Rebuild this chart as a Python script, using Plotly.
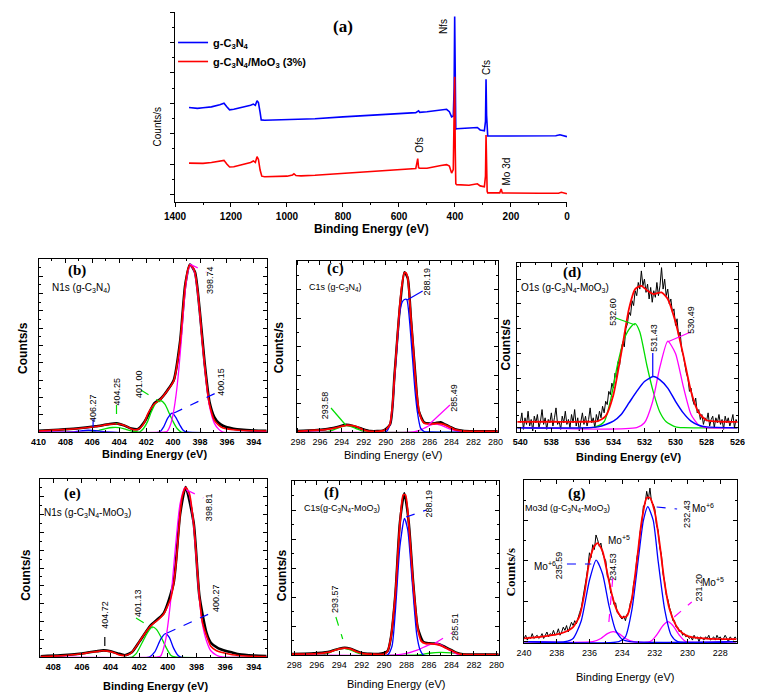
import numpy as np
import plotly.graph_objects as go

W, H = 760, 697
OFF = 8  # the page body margin shifts the figure by this many pixels
SANS = "Liberation Sans"
SERIF = "Liberation Serif"
BLUE, RED, GREEN, MAG, BLACK = "#0000ff", "#ff0000", "#00dd00", "#ff00ff", "#000000"

# ---------------- (a) survey spectra ----------------
A_BLUE_E = [1350,1320,1300,1270,1240,1225,1215,1205,1190,1160,1130,1120,1113,1107,1102,1096,1092,1080,1000,950,
            900,800,700,600,540,530,526,500,450,430,420,412,406,403,401,399,397,394,350,320,
            310,295,291,289,287,285,283,250,200,100,40,25,15,0]
A_BLUE_I = [2.86,2.83,2.85,2.88,2.95,3.0,2.88,2.78,2.8,2.86,2.93,2.97,2.93,3.08,3.02,2.7,2.45,2.44,2.46,2.47,
            2.49,2.55,2.61,2.67,2.69,2.75,2.70,2.72,2.78,2.8,2.72,2.55,2.58,3.5,5.85,3.0,2.15,2.16,2.17,2.2,
            2.12,2.09,2.4,3.79,2.6,1.95,1.92,1.92,1.92,1.92,1.93,1.96,1.93,1.9]
A_RED_E = [1350,1320,1300,1270,1240,1225,1215,1205,1190,1160,1130,1120,1113,1107,1102,1096,1090,1080,1000,980,
           975,968,950,900,800,700,600,540,533,530,526,500,450,430,420,412,406,403,401,399,
           397,394,350,320,310,295,291,289,287,285,283,240,235,231,100,30,20,10,0]
A_RED_I = [1.03,1.01,1.02,1.05,1.1,1.12,1.0,0.9,0.91,0.97,1.05,1.1,1.05,1.24,1.15,0.8,0.6,0.58,0.6,0.64,
           0.68,0.62,0.61,0.63,0.69,0.75,0.82,0.85,1.18,0.88,0.86,0.86,0.95,0.98,0.93,0.7,0.82,2.5,3.87,1.5,
           0.35,0.32,0.3,0.35,0.28,0.25,0.6,1.95,0.8,0.1,0.05,0.05,0.18,0.05,0.04,0.04,0.07,0.04,0.02]

# ---------------- (b) N1s g-C3N4 ----------------
B_RED_X = [410,408.5,407.2,405.75,404.8,404.2,403.6,403.1,402.85,402.6,402.37,402.1,401.88,401.4,400.92,400.43,399.95,399.7,399.47,399.25,
           399.1,398.9,398.75,398.55,398.38,398.2,398.02,397.85,397.66,397.48,397.3,396.93,396.6,396.33,395.12,393.05]
B_RED_Y = [0.006,0.012,0.019,0.032,0.044,0.048,0.038,0.018,0.013,0.016,0.029,0.06,0.105,0.162,0.19,0.238,0.295,0.39,0.524,0.72,
           0.848,0.94,0.966,0.955,0.924,0.83,0.695,0.54,0.39,0.26,0.162,0.067,0.038,0.025,0.01,0.006]
B_BLK_X = [410,408.5,407.2,405.75,404.8,404.2,403.6,403.1,402.6,402.1,401.4,400.92,400.43,399.95,399.47,399.1,398.75,398.38,398.02,397.66,
           397.3,396.93,396.6,396.3,396.0,395.5,395.0,394.0,393.05]
B_BLK_Y = [0.007,0.013,0.02,0.033,0.045,0.05,0.037,0.02,0.017,0.062,0.165,0.192,0.24,0.3,0.53,0.85,0.968,0.925,0.7,0.4,
           0.175,0.085,0.052,0.036,0.027,0.019,0.014,0.009,0.007]
B_MAG_X = [410,400.6,400.43,400.2,399.95,399.77,399.59,399.4,399.22,399.05,398.86,398.75,398.55,398.38,398.2,398.02,397.85,397.66,397.48,397.3,396.93,396.6,396.3,393.05]
B_MAG_Y = [0,0,0.005,0.04,0.124,0.22,0.35,0.52,0.71,0.85,0.94,0.96,0.95,0.915,0.82,0.685,0.53,0.38,0.25,0.15,0.05,0.015,0,0]
B_GRN_X = [410,406.0,405.5,405.0,404.5,404.0,403.5,403.0,402.5,402.2,401.9,401.6,401.3,400.92,400.6,400.3,400.0,399.7,399.4,393.05]
B_GRN_Y = [0,0,0.01,0.02,0.026,0.025,0.015,0.005,0,0.02,0.06,0.12,0.165,0.181,0.16,0.11,0.06,0.02,0,0]
B_BLU_X = [410,407.5,407.0,406.3,405.5,405.0,401.0,400.7,400.4,400.07,399.8,399.5,399.25,399.0,393.05]
B_BLU_Y = [0,0,0.005,0.01,0.005,0,0,0.03,0.08,0.109,0.085,0.04,0.01,0,0]

# ---------------- (c) C1s g-C3N4 ----------------
C_RED_X = [298.1,297,295.55,294.9,294.37,293.63,293.04,292.6,292.3,291.8,291.41,290.7,290.22,289.9,289.63,289.4,289.19,288.95,288.74,288.5,
           288.3,288.15,288.0,287.85,287.71,287.5,287.33,287.15,286.97,286.75,286.53,286.1,285.78,285.3,284.89,284.3,283.71,283.1,282.52,279.8]
C_RED_Y = [0.004,0.008,0.014,0.02,0.027,0.039,0.037,0.03,0.02,0.008,0.004,0.004,0.008,0.02,0.043,0.15,0.336,0.55,0.727,0.87,
           0.932,0.93,0.902,0.8,0.668,0.5,0.336,0.21,0.121,0.075,0.053,0.047,0.047,0.05,0.047,0.033,0.014,0.007,0.004,0.003]
C_BLK_X = [298.1,296.5,295.5,294.4,293.6,293.0,292.3,291.4,290.2,289.6,289.2,288.7,288.3,288.0,287.7,287.3,287.0,286.5,286.0,285.5,
           285.0,284.6,284.2,283.7,283.0,282.0,279.8]
C_BLK_Y = [0.006,0.01,0.016,0.03,0.042,0.036,0.022,0.006,0.01,0.045,0.34,0.74,0.935,0.9,0.66,0.33,0.125,0.056,0.05,0.052,
           0.058,0.045,0.032,0.016,0.008,0.005,0.004]
C_BLU_X = [298.1,290.0,289.63,289.4,289.19,288.95,288.74,288.5,288.3,288.09,287.85,287.57,287.35,287.13,286.83,286.5,286.0,279.8]
C_BLU_Y = [0,0,0.04,0.14,0.32,0.52,0.69,0.76,0.775,0.775,0.66,0.434,0.25,0.121,0.023,0.003,0,0]
C_MAG_X = [298.1,287.5,287.0,286.5,286.0,285.5,285.0,284.5,284.0,283.5,283.0,279.8]
C_MAG_Y = [0,0,0.008,0.022,0.038,0.046,0.04,0.027,0.014,0.005,0,0]
C_GRN_X = [298.1,295.5,295.0,294.5,294.0,293.6,293.2,292.7,292.2,291.7,279.8]
C_GRN_Y = [0,0,0.006,0.02,0.032,0.037,0.033,0.02,0.007,0,0]

# ---------------- (d) O1s g-C3N4-MoO3 ----------------
D_RAW_START, D_RAW_END = 540.0, 526.0
D_RAW_Y = [0.03,0.09,-0.01,0.06,0.02,0.10,0.01,0.05,-0.02,0.07,
           0.03,0.08,0.00,0.04,0.11,0.02,0.06,-0.01,0.05,0.03,
           0.09,0.01,0.06,0.12,0.02,0.04,-0.01,0.07,0.03,0.10,
           0.02,0.05,0.00,0.08,0.03,0.11,0.01,0.06,-0.02,0.04,
           0.09,0.02,0.07,0.01,0.05,0.12,0.03,0.06,0.00,0.08,
           0.04,0.10,0.06,0.13,0.09,0.16,0.14,0.22,0.20,0.27,
           0.24,0.33,0.30,0.40,0.38,0.47,0.52,0.49,0.60,0.63,
           0.70,0.68,0.77,0.74,0.83,0.80,0.88,0.84,0.95,0.86,
           0.90,0.82,0.87,0.78,0.85,0.76,0.83,0.79,0.88,0.80,
           0.86,0.97,0.84,0.90,0.80,0.84,0.75,0.78,0.70,0.72,
           0.62,0.66,0.55,0.58,0.47,0.44,0.38,0.33,0.30,0.22,
           0.24,0.17,0.14,0.18,0.09,0.11,0.05,0.08,0.02,0.06,
           0.04,0.09,0.01,0.05,0.07,0.00,0.06,0.03,0.08,0.02,
           0.05,-0.01,0.07,0.03,0.06,0.01,0.04,0.08,0.00,0.05,
           0.03]
D_RED_X = [540.2,538,536,535.0,534.5,534.0,533.5,533.0,532.6,532.2,531.8,531.4,530.9,530.5,530.0,529.5,529.0,528.5,528.0,527.0,526.0]
D_RED_Y = [0.035,0.036,0.036,0.04,0.07,0.2,0.45,0.72,0.84,0.86,0.83,0.81,0.82,0.78,0.64,0.44,0.22,0.09,0.045,0.036,0.035]
D_GRN_X = [540.2,535.2,534.6,534.16,533.74,533.3,532.88,532.6,532.3,531.85,531.44,531.02,530.6,530.0,529.5,526.0]
D_GRN_Y = [0,0.004,0.036,0.178,0.38,0.54,0.61,0.63,0.58,0.38,0.22,0.097,0.036,0.005,0,0]
D_BLU_X = [540.2,535.0,534.0,533.5,533.0,532.5,532.0,531.43,531.0,530.5,530.0,529.5,529.0,528.5,528.0,526.0]
D_BLU_Y = [0,0.005,0.04,0.08,0.15,0.22,0.28,0.31,0.29,0.24,0.16,0.09,0.04,0.015,0.005,0]
D_MAG_X = [540.2,532.5,532.0,531.5,531.0,530.5,530.0,529.5,529.0,528.5,528.0,526.0]
D_MAG_Y = [0,0,0.03,0.15,0.37,0.525,0.45,0.25,0.08,0.015,0,0]

# ---------------- (e) N1s g-C3N4-MoO3 ----------------
E_RED_X = [408.9,408,407,406,405.5,405,404.6,404.2,403.8,403.4,403,402.6,402.2,401.8,401.2,400.6,400.3,400.0,399.8,399.6,
           399.4,399.15,399.0,398.76,398.5,398.2,398.0,397.8,397.6,397.3,397.0,396.6,396.2,395.5,394.5,393.1]
E_RED_Y = [0.003,0.005,0.01,0.018,0.025,0.03,0.035,0.033,0.025,0.012,0.008,0.02,0.06,0.11,0.175,0.215,0.24,0.29,0.33,0.41,
           0.55,0.8,0.9,0.953,0.92,0.75,0.55,0.34,0.2,0.12,0.06,0.035,0.025,0.013,0.006,0.003]
E_BLK_X = [408.9,407.5,406.0,405.0,404.5,404.0,403.5,403.0,402.5,402.0,401.2,400.3,399.6,399.15,398.76,398.2,397.8,397.3,397.0,396.5,
           396.0,395.5,395.0,394.0,393.1]
E_BLK_Y = [0.004,0.009,0.02,0.032,0.037,0.032,0.02,0.01,0.028,0.085,0.178,0.245,0.415,0.8,0.955,0.755,0.345,0.135,0.08,0.05,
           0.035,0.025,0.015,0.008,0.005]
E_MAG_X = [408.9,400.7,400.5,400.17,399.83,399.49,399.15,398.8,398.5,398.2,398.0,397.8,397.6,397.3,397.0,396.6,396.2,393.1]
E_MAG_Y = [0,0,0.006,0.09,0.296,0.6,0.86,0.953,0.91,0.74,0.54,0.33,0.19,0.09,0.035,0.01,0,0]
E_GRN_X = [408.9,402.5,402.2,401.8,401.4,401.08,400.8,400.4,400.1,399.8,399.5,393.1]
E_GRN_Y = [0,0,0.02,0.08,0.14,0.169,0.155,0.1,0.05,0.01,0,0]
E_BLU_X = [408.9,401.3,400.9,400.5,400.17,399.9,399.6,399.3,399.1,393.1]
E_BLU_Y = [0,0,0.03,0.1,0.131,0.11,0.05,0.01,0,0]

# ---------------- (f) C1s g-C3N4-MoO3 ----------------
F_RED_X = [298.2,296,295,294.5,294,293.5,293,292.5,292,291,290,289.7,289.4,289,288.6,288.3,288.1,287.8,287.4,287,
           286.7,286.3,286,285.5,285,284.5,284,283.5,283,279.8]
F_RED_Y = [0.005,0.008,0.015,0.025,0.035,0.04,0.035,0.02,0.01,0.005,0.005,0.02,0.1,0.35,0.75,0.92,0.92,0.75,0.4,0.15,
           0.08,0.065,0.065,0.062,0.055,0.04,0.025,0.01,0.003,0.002]
F_BLK_X = [298.2,296.5,295.0,294.0,293.5,293.0,292.0,290.5,289.7,289.4,289.0,288.6,288.2,287.8,287.4,287.0,286.5,286.0,285.5,285.0,
           284.5,284.0,283.5,283.0,282.0,279.8]
F_BLK_Y = [0.006,0.009,0.017,0.037,0.042,0.036,0.012,0.006,0.022,0.1,0.35,0.76,0.93,0.76,0.41,0.155,0.075,0.068,0.066,0.06,
           0.044,0.028,0.012,0.005,0.003,0.003]
F_BLU_X = [298.2,289.7,289.3,289.0,288.6,288.19,287.9,287.5,287.1,286.8,286.5,279.8]
F_BLU_Y = [0,0,0.05,0.25,0.62,0.785,0.72,0.42,0.12,0.03,0,0]
F_MAG_X = [298.2,289.0,288.0,287.0,286.0,285.5,285.0,284.5,284.0,283.5,283.0,279.8]
F_MAG_Y = [0,0,0.01,0.03,0.058,0.067,0.06,0.04,0.02,0.005,0,0]
F_GRN_X = [298.2,295.5,295.0,294.5,294.0,293.57,293.0,292.5,292.0,291.5,287.0,286.0,285.0,284.0,283.0,282.5,279.8]
F_GRN_Y = [0,0,0.01,0.025,0.035,0.038,0.03,0.015,0.005,0,0,0.01,0.015,0.012,0.003,0,0]

# ---------------- (g) Mo3d g-C3N4-MoO3 ----------------
G_RAW_START, G_RAW_END = 240.0, 227.0
G_RAW_Y = [0.02,0.04,0.01,0.03,0.02,0.05,0.02,0.03,0.04,0.02,
           0.03,0.05,0.02,0.04,0.06,0.03,0.05,0.04,0.07,0.04,
           0.05,0.08,0.04,0.06,0.09,0.07,0.10,0.06,0.09,0.12,
           0.10,0.13,0.11,0.15,0.18,0.21,0.27,0.31,0.39,0.46,
           0.55,0.52,0.60,0.57,0.66,0.63,0.59,0.61,0.55,0.52,
           0.50,0.40,0.39,0.30,0.29,0.23,0.24,0.18,0.17,0.15,
           0.14,0.16,0.13,0.17,0.18,0.24,0.26,0.36,0.40,0.52,
           0.57,0.68,0.73,0.84,0.85,0.93,0.88,0.95,0.86,0.85,
           0.82,0.72,0.69,0.58,0.54,0.42,0.37,0.29,0.26,0.21,
           0.18,0.13,0.13,0.09,0.09,0.06,0.07,0.04,0.05,0.03,
           0.04,0.02,0.03,0.01,0.04,0.02,0.03,0.00,0.03,0.02,
           0.01,0.03,0.02,0.04,0.01,0.02,0.03,0.01,0.04,0.02,
           0.03,0.01,0.02,0.04,0.02,0.00,0.03,0.02,0.01,0.03,
           0.02]
G_RED_X = [240,239,238,237.5,237,236.6,236.3,236.0,235.7,235.5,235.2,234.9,234.6,234.3,234.0,233.7,233.4,233.1,232.8,232.5,
           232.3,232.0,231.7,231.4,231.1,230.8,230.5,230.0,229.0,228.0,227.0]
G_RED_Y = [0.02,0.03,0.045,0.06,0.09,0.16,0.3,0.5,0.59,0.61,0.56,0.42,0.28,0.19,0.15,0.16,0.27,0.5,0.75,0.89,
           0.89,0.8,0.6,0.36,0.2,0.12,0.07,0.035,0.02,0.016,0.016]
G_BLU1_X = [240,237.5,237.0,236.5,236.0,235.59,235.2,234.8,234.4,234.0,233.5,227]
G_BLU1_Y = [0,0,0.02,0.13,0.38,0.505,0.42,0.22,0.07,0.015,0,0]
G_BLU2_X = [240,234.2,233.8,233.4,233.0,232.7,232.43,232.1,231.8,231.4,231.0,230.6,227]
G_BLU2_Y = [0,0,0.03,0.2,0.52,0.75,0.835,0.75,0.5,0.2,0.04,0,0]
G_MAG1_X = [240,235.8,235.3,234.9,234.55,234.2,233.8,233.3,227]
G_MAG1_Y = [0,0,0.02,0.05,0.062,0.05,0.02,0,0]
G_MAG2_X = [240,232.3,231.9,231.5,231.2,230.9,230.5,230.1,227]
G_MAG2_Y = [0,0,0.04,0.1,0.124,0.1,0.04,0,0]

# ---------------- panel geometry (pixels) ----------------
PANELS = {1: (168, 570, 12, 202), 2: (28, 262, 259, 432), 3: (293, 499, 261, 432),
          4: (519, 745, 263, 432), 5: (30, 262, 479, 657), 6: (288, 500, 481, 655),
          7: (526, 744, 480, 643)}
XR = {1: [1400, 0], 2: [410, 393.05], 3: [298.1, 279.8], 4: [540.2, 526],
      5: [408.9, 393.1], 6: [298.2, 279.8], 7: [240, 227]}
YR = {1: [-0.25, 6.0], 2: [0, 1], 3: [0, 1], 4: [-0.026, 0.998], 5: [0, 1], 6: [0, 1], 7: [-0.008, 1.0]}
YDT = {1: 1, 2: 0.1, 3: 1/6, 4: 0.15, 5: 0.1, 6: 1/6, 7: 0.25}
TICKBOLD = {1: True, 2: True, 3: False, 4: True, 5: True, 6: False, 7: False}

def PX(px):
    return (px - OFF) / W

def PY(py):
    return 1 - (py - OFF) / H

fig = go.Figure()

def ax_names(i):
    return ("x" if i == 1 else f"x{i}", "y" if i == 1 else f"y{i}")

def line(i, x, y, color, width=1.3, shape="spline", name=None, legend=False):
    xa, ya = ax_names(i)
    fig.add_trace(go.Scatter(x=x, y=y, mode="lines", xaxis=xa, yaxis=ya, name=name,
                             showlegend=legend, hoverinfo="skip",
                             line=dict(color=color, width=width, shape=shape,
                                       smoothing=0.6 if shape == "spline" else None)))

# (a)
line(1, A_BLUE_E, A_BLUE_I, BLUE, 1.6, "linear", "g-C<sub>3</sub>N<sub>4</sub>", True)
line(1, A_RED_E, A_RED_I, RED, 1.6, "linear", "g-C<sub>3</sub>N<sub>4</sub>/MoO<sub>3</sub> (3%)", True)
# (b)
line(2, B_BLK_X, B_BLK_Y, BLACK, 2.6)
line(2, B_GRN_X, B_GRN_Y, GREEN)
line(2, B_BLU_X, B_BLU_Y, BLUE)
line(2, B_MAG_X, B_MAG_Y, MAG)
line(2, B_RED_X, B_RED_Y, RED, 1.6)
# (c)
line(3, C_BLK_X, C_BLK_Y, BLACK, 2.4)
line(3, C_GRN_X, C_GRN_Y, GREEN)
line(3, C_MAG_X, C_MAG_Y, MAG)
line(3, C_BLU_X, C_BLU_Y, BLUE)
line(3, C_RED_X, C_RED_Y, RED, 1.8)
# (d)
d_x = np.linspace(D_RAW_START, D_RAW_END, len(D_RAW_Y))
line(4, d_x, D_RAW_Y, BLACK, 1.0, "linear")
line(4, D_GRN_X, D_GRN_Y, GREEN)
line(4, D_MAG_X, D_MAG_Y, MAG)
line(4, D_BLU_X, D_BLU_Y, BLUE, 1.5)
line(4, D_RED_X, D_RED_Y, RED, 1.8)
# (e)
line(5, E_BLK_X, E_BLK_Y, BLACK, 2.6)
line(5, E_GRN_X, E_GRN_Y, GREEN)
line(5, E_BLU_X, E_BLU_Y, BLUE)
line(5, E_MAG_X, E_MAG_Y, MAG)
line(5, E_RED_X, E_RED_Y, RED, 1.6)
# (f)
line(6, F_BLK_X, F_BLK_Y, BLACK, 2.4)
line(6, F_GRN_X, F_GRN_Y, GREEN)
line(6, F_MAG_X, F_MAG_Y, MAG)
line(6, F_BLU_X, F_BLU_Y, BLUE)
line(6, F_RED_X, F_RED_Y, RED, 1.8)
# (g)
g_x = np.linspace(G_RAW_START, G_RAW_END, len(G_RAW_Y))
line(7, g_x, G_RAW_Y, BLACK, 1.0, "linear")
line(7, G_MAG1_X, G_MAG1_Y, MAG)
line(7, G_MAG2_X, G_MAG2_Y, MAG)
line(7, G_BLU1_X, G_BLU1_Y, BLUE)
line(7, G_BLU2_X, G_BLU2_Y, BLUE)
line(7, G_RED_X, G_RED_Y, RED, 1.8)

# ---------------- axes ----------------
layout = dict(width=W, height=H, margin=dict(l=0, r=0, t=0, b=0),
              paper_bgcolor="white", plot_bgcolor="white", showlegend=True,
              legend=dict(x=PX(166), y=PY(28), xanchor="left", yanchor="top",
                          bgcolor="rgba(0,0,0,0)", tracegroupgap=0,
                          font=dict(size=11, family=SANS, color="black", weight="bold")))
for i, (x0, x1, y0, y1) in PANELS.items():
    xa, ya = ax_names(i)
    xk = "xaxis" if i == 1 else f"xaxis{i}"
    yk = "yaxis" if i == 1 else f"yaxis{i}"
    tick = "outside" if i == 1 else "inside"
    mir = False if i == 1 else "ticks"
    tf = dict(size=10 if i == 1 else 9, family=SANS, color="black",
              weight="bold" if TICKBOLD[i] else "normal")
    layout[xk] = dict(domain=[PX(x0), PX(x1)], range=XR[i], anchor=ya,
                      showline=True, linecolor="black", linewidth=1, mirror=mir,
                      ticks=tick, ticklen=4, tickcolor="black",
                      dtick=200 if i == 1 else 2,
                      minor=dict(ticks=tick, ticklen=2, tickcolor="black",
                                 dtick=100 if i == 1 else 1),
                      showgrid=False, zeroline=False, tickfont=tf, ticklabelstandoff=1)
    layout[yk] = dict(domain=[PY(y1), PY(y0)], range=YR[i], anchor=xa,
                      showline=True, linecolor="black", linewidth=1, mirror=mir,
                      ticks=tick, ticklen=4, tickcolor="black", dtick=YDT[i], tick0=0,
                      minor=dict(ticks=tick, ticklen=2, tickcolor="black", dtick=YDT[i] / 2),
                      showticklabels=False, showgrid=False, zeroline=False)
fig.update_layout(**layout)

# ---------------- text & leader lines (pixel placement) ----------------
def txt(px, py, s, size=9, angle=0, bold=False, family=SANS, color="black"):
    fig.add_annotation(x=PX(px), y=PY(py), xref="paper", yref="paper", text=s,
                       showarrow=False, textangle=angle, xanchor="center", yanchor="middle",
                       font=dict(size=size, family=family, color=color,
                                 weight="bold" if bold else "normal"))

def seg(px0, py0, px1, py1, color, dash="dash", width=1.2):
    fig.add_shape(type="line", xref="paper", yref="paper", x0=PX(px0), y0=PY(py0),
                  x1=PX(px1), y1=PY(py1), line=dict(color=color, dash=dash, width=width))

C3N4 = "g-C<sub>3</sub>N<sub>4</sub>"
MIX = "g-C<sub>3</sub>N<sub>4</sub>-MoO<sub>3</sub>"
BE = "Binding Energy (eV)"

# (a)
txt(340, 27, "(a)", 17, bold=True, family=SERIF)
txt(444, 27, "Nfs", 10, -90)
txt(488, 68, "Cfs", 10, -90)
txt(419, 145, "Ofs", 10, -90)
txt(507, 172, "Mo 3d", 10, -90)
txt(150, 127, "Counts/s", 10, -90)
txt(370, 229, BE, 12, bold=True)
# (b)
txt(67, 270, "(b)", 15, bold=True, family=SERIF)
txt(72, 288, f"N1s ({C3N4})", 10)
txt(204, 280, "398.74", 9, -90); seg(183, 264, 200, 272, MAG)
txt(131, 384, "401.00", 9, -90); seg(133, 390, 153, 402, GREEN)
txt(215, 382, "400.15", 9, -90); seg(167, 413, 210, 393, BLUE)
txt(108, 392, "404.25", 9, -90); seg(108, 405, 108, 424, GREEN)
txt(84, 408, "406.27", 9, -90); seg(84, 419, 84, 427, BLUE)
txt(12, 348, "Counts/s", 12, -90, bold=True)
txt(147, 454, BE, 11, bold=True)
# (c)
txt(333, 268, "(c)", 15, bold=True, family=SERIF)
txt(333, 287, f"C1s ({C3N4})", 9)
txt(426, 282, "288.19", 9, -90); seg(406, 300, 422, 291, BLUE, "solid")
txt(322, 405, "293.58", 9, -90); seg(328, 408, 343, 425, GREEN, "solid")
txt(454, 398, "285.49", 9, -90); seg(428, 425, 450, 405, MAG, "solid")
txt(275, 347, "Counts/s", 12, -90, bold=True)
txt(392, 455, BE, 11)
# (d)
txt(575, 272, "(d)", 15, bold=True, family=SERIF)
txt(568, 288, f"O1s ({MIX})", 10)
txt(617, 312, "532.60", 9, -90); seg(620, 318, 640, 325, GREEN, "solid")
txt(659, 338, "531.43", 9, -90); seg(658, 353, 658, 377, BLUE, "solid")
txt(697, 320, "530.49", 9, -90); seg(673, 342, 697, 332, MAG, "solid")
txt(507, 345, "Counts/s", 12, -90, bold=True)
txt(633, 457, BE, 11, bold=True)
# (e)
txt(63, 493, "(e)", 15, bold=True, family=SERIF)
txt(78, 513, f"N1s ({MIX})", 10)
txt(203, 507, "398.81", 9, -90); seg(180, 490, 197, 498, MAG)
txt(130, 603, "401.13", 9, -90); seg(128, 618, 145, 628, GREEN)
txt(210, 598, "400.27", 9, -90); seg(160, 633, 205, 613, BLUE)
txt(96, 615, "404.72", 9, -90); seg(96, 637, 96, 649, BLACK)
txt(15, 575, "Counts/s", 12, -90, bold=True)
txt(148, 686, BE, 11, bold=True)
# (f)
txt(328, 492, "(f)", 15, bold=True, family=SERIF)
txt(339, 508, f"C1s({MIX})", 9)
txt(429, 503, "288.19", 9, -90); seg(405, 517, 426, 510, BLUE)
txt(332, 599, "293.57", 9, -90); seg(333, 617, 340, 639, GREEN)
txt(455, 627, "285.51", 9, -90); seg(435, 643, 452, 633, MAG)
txt(278, 575, "Counts/s", 12, -90, bold=True)
txt(395, 684, BE, 11)
# (g)
txt(580, 493, "(g)", 15, bold=True, family=SERIF)
txt(571, 508, f"Mo3d ({MIX})", 9)
txt(547, 566, "Mo<sup>+6</sup>", 10); txt(562, 565, "235.59", 9, -90); seg(570, 564, 595, 564, BLUE)
txt(623, 540, "Mo<sup>+5</sup>", 10); txt(617, 567, "234.53", 9, -90); seg(617, 578, 613, 622, MAG)
txt(693, 514, "232.43", 9, -90); txt(710, 508, "Mo<sup>+6</sup>", 10); seg(662, 507, 683, 509, BLUE)
txt(705, 588, "231.20", 9, -90); txt(720, 582, "Mo<sup>+5</sup>", 10); seg(680, 617, 698, 602, MAG)
txt(512, 572, "Counts/s", 13, -90, bold=True, family=SERIF)
txt(630, 677, BE, 11)

fig.write_html("out.html")
